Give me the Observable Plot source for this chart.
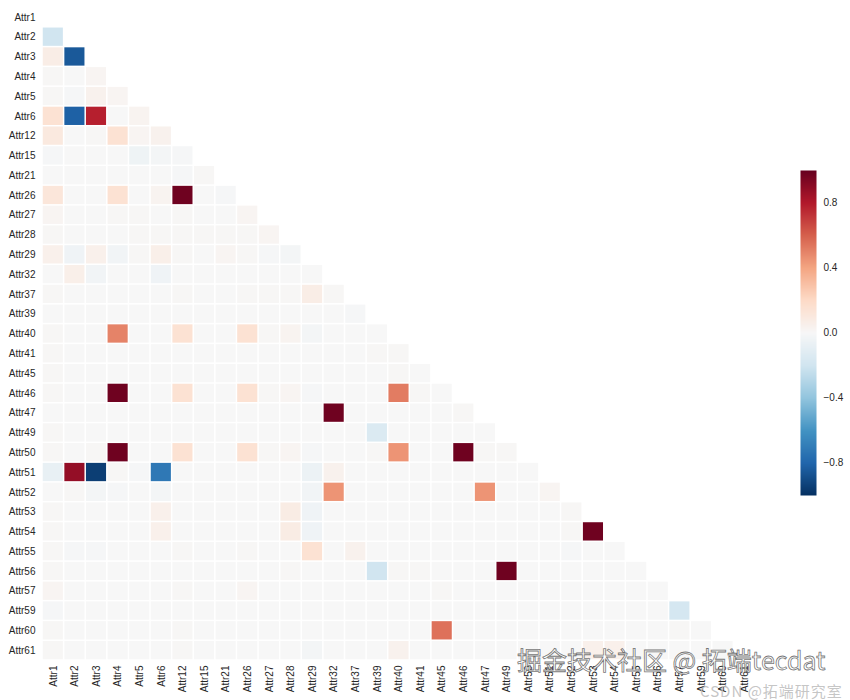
<!DOCTYPE html>
<html>
<head>
<meta charset="utf-8">
<script src="https://cdn.jsdelivr.net/npm/d3@7"></script>
<script src="https://cdn.jsdelivr.net/npm/@observablehq/plot@0.6"></script>
<style>
  body { margin: 0; background: #fff; font-family: "Liberation Sans", Arial, sans-serif; }
  #wrap { position: relative; width: 850px; height: 700px; overflow: hidden; background: #fff; }
  #main { position: absolute; left: 0; top: 0; }
  #cbar { position: absolute; left: 800px; top: 165px; }
  .wm1 { position: absolute; left: 517px; top: 647px; font-family: "Noto Sans CJK SC", sans-serif; font-size: 25px; line-height: 25px;
         color: rgba(255,255,255,0.85); -webkit-text-stroke: 0.8px rgba(70,70,70,0.75); white-space: nowrap; }
  .wm2 { position: absolute; left: 700px; top: 683px; font-family: "Noto Sans CJK SC", sans-serif; font-size: 15px; line-height: 15px;
         letter-spacing: 1px; color: rgba(190,190,190,0.9); white-space: nowrap; }
</style>
</head>
<body>
<div id="wrap">
  <div id="main"></div>
  <div id="cbar"></div>
  <div class="wm1">掘金技术社区 @ 拓端tecdat</div>
  <div class="wm2">CSDN @拓端研究室</div>
</div>
<script>
// Attribute names (rows and columns)
const names = ["Attr1","Attr2","Attr3","Attr4","Attr5","Attr6","Attr12","Attr15","Attr21","Attr26","Attr27",
  "Attr28","Attr29","Attr32","Attr37","Attr39","Attr40","Attr41","Attr45","Attr46","Attr47","Attr49",
  "Attr50","Attr51","Attr52","Attr53","Attr54","Attr55","Attr56","Attr57","Attr59","Attr60","Attr61"];

// Lower-triangle correlation rows (row i has values for columns 0..i-1)
const r_Attr1  = [];
const r_Attr2  = [-0.20];
const r_Attr3  = [0.07,-0.85];
const r_Attr4  = [0.01,0.00,0.02];
const r_Attr5  = [0.01,-0.01,0.04,0.02];
const r_Attr6  = [0.15,-0.82,0.78,0.00,0.03];
const r_Attr12 = [0.10,0.00,0.01,0.15,0.02,0.04];
const r_Attr15 = [-0.01,0.00,0.00,0.00,-0.05,-0.02,-0.01];
const r_Attr21 = [0.00,0.00,0.00,0.00,0.00,0.00,-0.01,0.01];
const r_Attr26 = [0.12,0.00,0.00,0.15,0.00,0.03,0.98,0.00,-0.01];
const r_Attr27 = [0.02,0.00,0.00,0.01,0.01,0.00,0.01,0.00,0.00,0.02];
const r_Attr28 = [0.01,0.00,0.00,0.00,0.01,0.01,0.01,0.01,0.01,0.01,0.02];
const r_Attr29 = [0.05,-0.04,0.05,-0.03,0.01,0.06,0.01,0.00,0.02,0.01,-0.01,-0.02];
const r_Attr32 = [0.00,0.06,-0.03,0.00,0.00,-0.04,0.00,0.00,0.00,0.00,0.00,0.00,0.00];
const r_Attr37 = [0.01,0.00,0.00,0.00,0.00,0.00,0.01,0.00,0.00,0.01,0.01,0.01,0.07,0.01];
const r_Attr39 = [0.00,0.00,0.00,0.00,0.00,0.00,0.00,0.00,0.00,0.00,0.00,0.00,0.00,0.00,-0.01];
const r_Attr40 = [0.01,0.00,0.00,0.50,0.00,0.00,0.15,0.00,0.00,0.15,0.01,0.03,-0.02,0.00,0.00,0.00];
const r_Attr41 = [0.01,0.00,0.00,0.00,0.00,0.00,0.00,0.00,0.00,0.00,0.00,0.00,0.00,0.00,0.00,0.01,0.01];
const r_Attr45 = [0.01,0.00,0.00,0.00,0.00,0.00,0.00,0.00,0.00,0.00,0.00,0.00,0.00,0.00,0.00,0.00,0.01,0.00];
const r_Attr46 = [0.01,0.00,0.00,0.98,0.00,0.00,0.15,0.00,0.00,0.15,0.01,0.02,-0.01,0.00,0.00,0.00,0.52,0.01,0.00];
const r_Attr47 = [0.00,0.00,0.00,0.00,0.00,0.00,0.00,0.00,0.00,0.00,0.00,0.00,0.00,0.98,0.00,0.00,0.00,0.00,0.00,0.01];
const r_Attr49 = [0.01,0.00,0.00,0.00,0.00,0.00,0.00,0.00,0.00,0.00,0.00,0.00,0.00,0.00,0.00,-0.15,0.00,0.00,0.00,0.00,0.00];
const r_Attr50 = [0.01,0.00,0.01,0.98,0.00,0.00,0.15,0.00,0.00,0.15,0.01,0.02,-0.01,0.00,0.00,0.01,0.45,0.00,0.00,0.98,0.01,0.01];
const r_Attr51 = [-0.08,0.88,-0.95,0.01,-0.01,-0.72,0.00,0.00,0.00,0.00,0.00,0.00,-0.06,0.04,0.00,0.00,0.00,0.00,0.00,0.00,0.00,0.00,0.00];
const r_Attr52 = [0.00,0.01,-0.02,-0.01,0.00,-0.02,0.00,0.00,0.00,0.00,0.00,0.00,-0.03,0.45,0.00,0.00,0.00,0.00,0.00,0.00,0.45,0.00,0.00,0.02];
const r_Attr53 = [0.01,0.00,0.00,0.00,0.00,0.05,0.00,0.00,0.00,0.00,0.00,0.08,-0.04,0.00,0.00,0.00,0.00,0.00,0.00,0.00,0.00,0.00,0.00,0.00,0.01];
const r_Attr54 = [0.01,0.00,0.00,0.00,0.00,0.05,0.00,0.00,0.00,0.00,0.00,0.08,-0.04,0.00,0.00,0.00,0.00,0.00,0.00,0.00,0.00,0.00,0.00,0.00,0.01,0.98];
const r_Attr55 = [0.01,-0.01,-0.01,0.00,0.00,0.00,0.01,0.00,0.00,0.01,0.00,0.00,0.15,0.00,0.04,0.00,0.00,0.00,0.00,0.00,0.00,0.00,0.00,0.00,-0.01,0.00,0.00];
const r_Attr56 = [0.01,0.00,0.00,0.00,0.00,0.00,0.00,0.00,0.00,0.00,0.00,0.01,0.00,0.00,0.00,-0.20,0.01,0.01,0.00,0.00,0.00,0.98,0.00,0.00,0.00,0.00,0.00,0.00];
const r_Attr57 = [0.02,0.00,0.00,0.00,0.00,0.00,0.01,0.00,0.00,0.02,0.00,0.00,0.00,0.00,0.00,0.00,0.00,0.00,0.01,0.00,0.00,0.00,0.00,0.00,0.00,0.00,0.00,0.00,0.00];
const r_Attr59 = [-0.01,0.00,0.00,0.00,0.00,0.00,0.00,0.00,0.00,0.00,0.00,0.00,0.00,0.00,0.00,0.00,0.00,0.00,0.00,0.00,0.00,0.00,0.00,0.00,0.00,0.00,0.00,0.00,0.00,-0.18];
const r_Attr60 = [0.01,0.00,0.00,0.00,0.00,0.00,0.01,0.00,0.00,0.00,0.00,0.00,0.00,0.00,0.00,0.00,0.00,0.00,0.55,0.00,0.00,0.00,0.00,0.00,0.00,0.00,0.00,0.00,0.00,0.01,0.00];
const r_Attr61 = [0.01,0.00,0.00,0.00,0.00,0.00,0.01,0.00,0.00,0.00,0.00,0.00,-0.02,0.00,0.00,0.00,0.04,0.00,0.00,0.00,0.00,0.00,0.00,0.00,0.00,0.05,0.05,0.00,0.00,0.00,0.00,0.00];

const rows = [r_Attr1,r_Attr2,r_Attr3,r_Attr4,r_Attr5,r_Attr6,r_Attr12,r_Attr15,r_Attr21,r_Attr26,r_Attr27,
  r_Attr28,r_Attr29,r_Attr32,r_Attr37,r_Attr39,r_Attr40,r_Attr41,r_Attr45,r_Attr46,r_Attr47,r_Attr49,
  r_Attr50,r_Attr51,r_Attr52,r_Attr53,r_Attr54,r_Attr55,r_Attr56,r_Attr57,r_Attr59,r_Attr60,r_Attr61];

// Colorbar ticks
const cbTicks = [-0.8, -0.4, 0.0, 0.4, 0.8];

// RdBu_r colormap stops
const cmapDomain = [-1,-0.8,-0.6,-0.4,-0.2,0,0.2,0.4,0.6,0.8,1];
const cmapColors = ["#053061","#2166ac","#4393c3","#92c5de","#d1e5f0","#f7f7f7","#fddbc7","#f4a582","#d6604d","#b2182b","#67001f"];

const cells = [];
rows.forEach((vals, i) => vals.forEach((v, j) => cells.push({row: names[i], col: names[j], value: v})));

const colorScale = {type: "linear", domain: cmapDomain, range: cmapColors, interpolate: "rgb", clamp: true};
const fontStyle = {fontFamily: "'Liberation Sans', Arial, sans-serif", fontSize: "10px", color: "#262626", background: "transparent"};

const main = Plot.plot({
  width: 770, height: 700,
  marginLeft: 42, marginRight: 15, marginTop: 7, marginBottom: 40,
  style: fontStyle,
  x: {domain: names, padding: 0, round: false, tickRotate: -90, tickSize: 0, tickPadding: 5, label: null},
  y: {domain: names, padding: 0, round: false, tickSize: 0, tickPadding: 7, label: null},
  color: colorScale,
  marks: [
    Plot.cell(cells, {x: "col", y: "row", fill: "value", inset: 0.75})
  ]
});
document.getElementById("main").appendChild(main);

const cbar = Plot.plot({
  width: 50, height: 335,
  marginLeft: 0, marginRight: 34, marginTop: 5, marginBottom: 5,
  style: fontStyle,
  x: {domain: [0, 1], axis: null},
  y: {domain: [-1, 1], axis: "right", ticks: cbTicks, tickFormat: d3.format(".1f"), tickSize: 0, tickPadding: 7, label: null},
  color: colorScale,
  marks: [
    Plot.raster({x1: 0, x2: 1, y1: -1, y2: 1, width: 1, height: 325, fill: (x, y) => y, imageRendering: "auto"})
  ]
});
document.getElementById("cbar").appendChild(cbar);
</script>
</body>
</html>
